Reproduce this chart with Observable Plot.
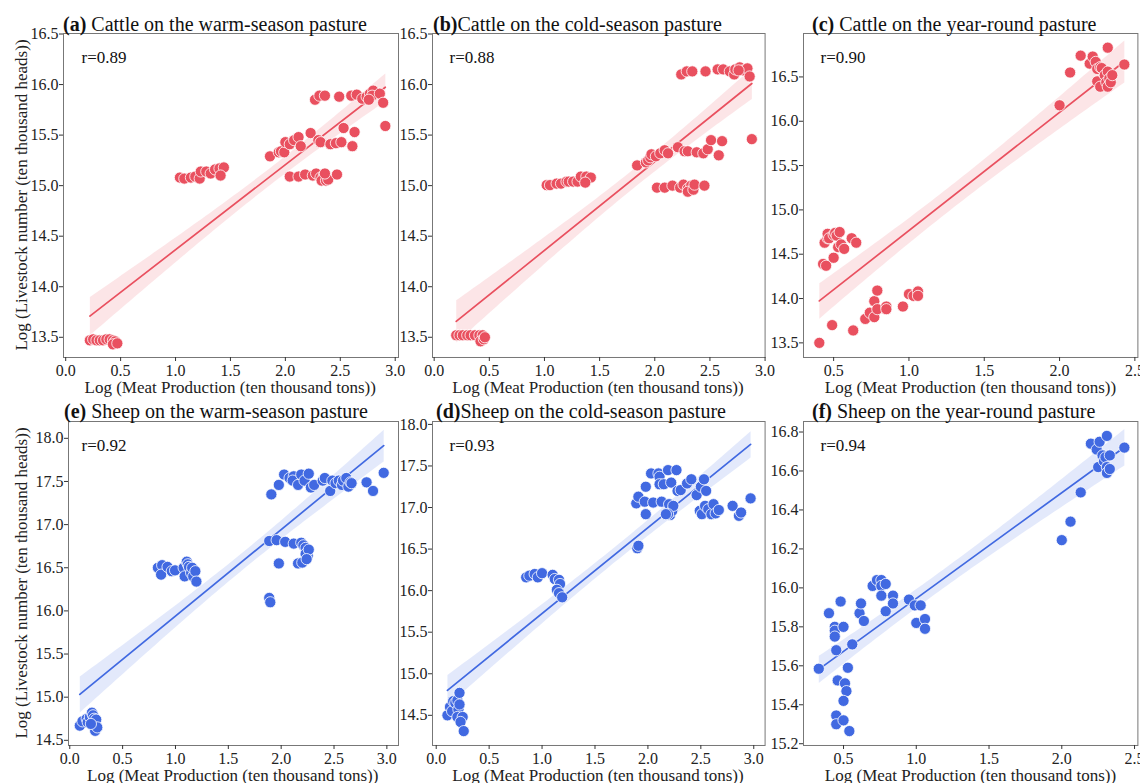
<!DOCTYPE html>
<html>
<head>
<meta charset="utf-8">
<script src="https://cdn.jsdelivr.net/npm/d3@7"></script>
<script src="https://cdn.jsdelivr.net/npm/@observablehq/plot@0.6"></script>
<style>
  body { margin: 0; background: #fff; }
  #fig { position: relative; width: 1140px; height: 783px; overflow: hidden;
         font-family: "Liberation Serif", "Times New Roman", serif; color: #222; background: #fff; }
  .title { position: absolute; font-size: 20px; line-height: 20px; white-space: nowrap; color: #111; }
  .xlab { position: absolute; font-size: 17px; line-height: 17px; white-space: nowrap; transform: translateX(-50%); color: #222; }
  .ylab { position: absolute; font-size: 17px; line-height: 17px; white-space: nowrap;
          transform: translate(-50%, -50%) rotate(-90deg); color: #222; }
  svg text { font-family: "Liberation Serif", "Times New Roman", serif; }
</style>
</head>
<body>
<div id="fig"></div>
<script>
// ---------- Data ----------
// (a) Cattle on the warm-season pasture
const aX = [0.22,0.25,0.28,0.31,0.34,0.37,0.40,0.43,0.45,0.43,0.47,
  1.04,1.08,1.14,1.18,1.22,1.23,1.28,1.32,1.36,1.40,1.44,1.41,
  1.86,1.94,1.96,1.99,2.00,2.04,2.08,2.12,2.14,2.23,2.30,2.32,2.41,2.46,2.51,2.53,2.61,2.63,2.91,
  2.04,2.12,2.18,2.25,2.28,2.32,2.35,2.33,2.37,2.39,2.36,2.47,
  2.27,2.31,2.36,2.49,2.60,2.65,2.70,2.74,2.77,2.80,2.79,2.86,2.89,2.76];
const aY = [13.47,13.48,13.47,13.47,13.47,13.48,13.48,13.47,13.46,13.43,13.44,
  15.08,15.07,15.08,15.09,15.07,15.14,15.14,15.12,15.16,15.17,15.18,15.10,
  15.29,15.33,15.34,15.33,15.43,15.41,15.45,15.48,15.39,15.52,15.45,15.43,15.41,15.42,15.43,15.57,15.39,15.53,15.59,
  15.09,15.09,15.11,15.10,15.12,15.08,15.10,15.05,15.05,15.06,15.12,15.11,
  15.85,15.89,15.89,15.88,15.89,15.90,15.86,15.88,15.91,15.94,15.89,15.91,15.82,15.85];

// (b) Cattle on the cold-season pasture
const bX = [0.20,0.23,0.26,0.30,0.33,0.37,0.41,0.44,0.42,0.45,0.46,
  1.02,1.05,1.11,1.15,1.20,1.22,1.26,1.30,1.33,1.38,1.42,1.37,
  1.84,1.92,1.94,1.96,1.97,2.01,2.05,2.09,2.12,2.21,2.27,2.30,2.38,2.44,2.48,2.51,2.58,2.61,2.88,
  2.02,2.09,2.16,2.23,2.26,2.30,2.33,2.30,2.35,2.36,2.45,
  2.24,2.29,2.34,2.46,2.57,2.62,2.68,2.72,2.73,2.77,2.80,2.84,2.86,2.76];
const bY = [13.52,13.52,13.52,13.52,13.52,13.52,13.52,13.52,13.46,13.48,13.50,
  15.005,15.005,15.02,15.02,15.04,15.04,15.04,15.04,15.09,15.09,15.08,15.03,
  15.20,15.23,15.25,15.28,15.31,15.29,15.32,15.35,15.32,15.38,15.34,15.34,15.33,15.32,15.36,15.45,15.30,15.44,15.46,
  14.98,14.98,15.00,14.98,15.01,14.97,15.00,14.94,14.96,15.01,15.00,
  16.10,16.13,16.13,16.13,16.15,16.15,16.13,16.10,16.15,16.17,16.14,16.16,16.08,16.14];

// (c) Cattle on the year-round pasture
const cX = [0.405,0.49,0.63,0.71,0.74,0.77,0.77,0.79,0.79,0.85,0.85,0.96,1.00,1.03,1.06,1.06,
  0.43,0.45,0.50,0.44,0.46,0.46,0.47,0.50,0.51,0.52,0.54,0.53,0.55,0.57,0.62,0.65,
  2.00,2.07,2.14,2.20,2.22,2.24,2.25,2.27,2.25,2.28,2.27,2.30,2.31,2.32,2.32,2.32,2.33,2.34,2.35,2.43];
const cY = [13.50,13.70,13.64,13.77,13.84,13.97,13.79,13.88,14.09,13.91,13.88,13.91,14.05,14.03,14.08,14.03,
  14.39,14.37,14.46,14.63,14.68,14.73,14.68,14.72,14.74,14.71,14.75,14.58,14.61,14.56,14.68,14.63,
  16.18,16.55,16.74,16.65,16.73,16.67,16.59,16.61,16.45,16.60,16.39,16.52,16.44,16.56,16.83,16.39,16.48,16.44,16.52,16.64];

// (e) Sheep on the warm-season pasture
const eX = [0.095,0.12,0.16,0.17,0.19,0.21,0.22,0.23,0.25,0.24,0.26,0.20,
  0.834,0.874,0.864,0.925,0.965,0.996,1.077,1.107,1.117,1.087,1.128,1.148,1.158,1.168,1.188,1.198,
  1.887,1.897,1.887,1.957,1.978,2.038,2.119,2.19,2.21,2.231,2.251,2.231,2.16,2.2,2.261,2.241,
  1.907,1.978,2.028,2.079,2.119,2.109,2.16,2.19,2.221,2.261,2.281,2.312,2.393,2.413,2.464,2.484,2.514,2.545,2.575,2.585,2.616,2.636,2.656,2.666,2.808,2.869,2.97];
const eY = [14.67,14.72,14.75,14.71,14.77,14.82,14.79,14.75,14.74,14.61,14.65,14.69,
  16.50,16.53,16.42,16.51,16.46,16.47,16.50,16.57,16.54,16.40,16.51,16.44,16.50,16.40,16.46,16.34,
  16.15,16.10,16.81,16.82,16.55,16.80,16.78,16.79,16.76,16.73,16.64,16.66,16.55,16.56,16.71,16.60,
  17.35,17.46,17.58,17.54,17.56,17.51,17.46,17.58,17.51,17.59,17.43,17.46,17.51,17.54,17.39,17.51,17.48,17.51,17.46,17.51,17.54,17.44,17.49,17.48,17.49,17.39,17.60];

// (d) Sheep on the cold-season pasture
const dX = [0.106,0.13,0.15,0.16,0.18,0.20,0.22,0.21,0.22,0.20,0.25,0.23,0.26,
  0.85,0.88,0.93,0.96,1.00,1.10,1.12,1.16,1.17,1.14,1.16,1.19,
  1.90,1.91,1.89,1.91,1.97,1.98,1.98,2.03,2.05,2.10,2.11,2.11,2.13,2.15,2.19,2.20,2.21,2.22,2.23,2.24,
  2.27,2.28,2.31,2.37,2.41,2.46,2.50,2.53,2.55,2.49,2.51,2.54,2.57,2.60,2.62,2.64,2.67,2.80,2.86,2.88,2.97,2.19,2.17];
const dY = [14.50,14.60,14.55,14.67,14.65,14.68,14.77,14.57,14.63,14.48,14.48,14.42,14.31,
  16.16,16.18,16.20,16.16,16.21,16.19,16.14,16.13,16.08,16.01,15.97,15.92,
  16.51,16.54,17.05,17.13,17.07,17.25,16.92,17.41,17.06,17.41,17.37,17.28,17.07,17.28,17.45,17.04,16.91,17.30,16.96,17.02,
  17.45,17.20,17.21,17.29,17.34,17.15,17.25,17.34,17.20,16.96,16.92,17.02,16.98,16.92,17.04,16.93,16.97,17.02,16.90,16.94,17.11,16.92,16.92];

// (f) Sheep on the year-round pasture
const fX = [0.33,0.40,0.48,0.44,0.44,0.44,0.50,0.45,0.46,0.51,0.52,0.50,0.53,0.45,0.45,0.50,0.54,0.56,0.61,0.62,
  0.64,0.70,0.73,0.76,0.76,0.79,0.76,0.79,0.84,0.84,0.95,0.99,1.03,1.00,1.06,1.06,
  2.00,2.06,2.13,2.20,2.24,2.26,2.25,2.28,2.29,2.30,2.31,2.31,2.31,2.33,2.33,2.43];
const fY = [15.585,15.87,15.93,15.80,15.78,15.75,15.80,15.68,15.525,15.51,15.47,15.42,15.59,15.345,15.30,15.32,15.265,15.71,15.87,15.92,
  15.83,16.01,16.04,16.04,16.01,16.02,15.96,15.88,15.96,15.92,15.94,15.91,15.91,15.82,15.84,15.79,
  16.245,16.34,16.49,16.74,16.71,16.75,16.62,16.68,16.65,16.67,16.62,16.78,16.59,16.68,16.61,16.72];

// Tick values
const ticksX03 = [0.0,0.5,1.0,1.5,2.0,2.5,3.0];
const ticksX0525 = [0.5,1.0,1.5,2.0,2.5];
const ticksYCattle = [13.5,14.0,14.5,15.0,15.5,16.0,16.5];
const ticksYSheepSeason = [14.5,15.0,15.5,16.0,16.5,17.0,17.5,18.0];
const ticksYSheepYear = [15.2,15.4,15.6,15.8,16.0,16.2,16.4,16.6,16.8];

// Labels
const tags = ["(a)", "(b)", "(c)", "(e)", "(d)", "(f)"];
const titles = [" Cattle on the warm-season pasture", "Cattle on the cold-season pasture", " Cattle on the year-round pasture",
                " Sheep on the warm-season pasture", "Sheep on the cold-season pasture", " Sheep on the year-round pasture"];
const rLabels = ["r=0.89", "r=0.88", "r=0.90", "r=0.92", "r=0.93", "r=0.94"];
const xLabel = "Log (Meat Production (ten thousand tons))";
const yLabel = "Log (Livestock number (ten thousand heads))";

const RED = "#E9505F";
const BLUE = "#4169E1";
const FONT = "'Liberation Serif', 'Times New Roman', serif";

// ---------- Layout ----------
const panels = [
  {xs: aX, ys: aY, color: RED, frame: [62.7, 397.7, 33.3, 357.3], xDomain: [-0.02, 3.03], yDomain: [13.30, 16.505], xTicks: ticksX03, yTicks: ticksYCattle, titleX: 63, rdx: 18},
  {xs: bX, ys: bY, color: RED, frame: [431.7, 764.3, 33.3, 357.3], xDomain: [-0.015, 3.0], yDomain: [13.30, 16.505], xTicks: ticksX03, yTicks: ticksYCattle, titleX: 433, rdx: 17},
  {xs: cX, ys: cY, color: RED, frame: [803.3, 1137.7, 33.3, 357.3], xDomain: [0.30, 2.52], yDomain: [13.335, 16.99], xTicks: ticksX0525, yTicks: ticksYCattle, titleX: 812, rdx: 17},
  {xs: eX, ys: eY, color: BLUE, frame: [67.7, 397.7, 420.5, 744.5], xDomain: [-0.012, 3.11], yDomain: [14.44, 18.195], xTicks: ticksX03, yTicks: ticksYSheepSeason, titleX: 64, rdx: 13},
  {xs: dX, ys: dY, color: BLUE, frame: [431.7, 764.3, 420.5, 744.5], xDomain: [-0.035, 3.107], yDomain: [14.137, 18.035], xTicks: ticksX03, yTicks: ticksYSheepSeason, titleX: 436, rdx: 17},
  {xs: fX, ys: fY, color: BLUE, frame: [803.3, 1137.7, 420.5, 744.5], xDomain: [0.225, 2.523], yDomain: [15.191, 16.854], xTicks: ticksX0525, yTicks: ticksYSheepYear, titleX: 812, rdx: 17}
];

const fig = document.getElementById("fig");
const fmt = d3.format(".1f");

panels.forEach((p, i) => {
  const ml = 50, mr = 12, mt = 10, mb = 30;
  const fw = p.frame[1] - p.frame[0];
  const fh = p.frame[3] - p.frame[2];
  const data = p.xs.map((x, j) => ({x, y: p.ys[j]}));
  const chart = Plot.plot({
    width: fw + ml + mr,
    height: fh + mt + mb,
    marginLeft: ml, marginRight: mr, marginTop: mt, marginBottom: mb,
    x: {domain: p.xDomain},
    y: {domain: p.yDomain},
    style: {fontFamily: FONT, fontSize: "16px", color: "#333", background: "transparent", overflow: "visible"},
    marks: [
      Plot.linearRegressionY(data, {x: "x", y: "y", stroke: p.color, fill: p.color, fillOpacity: 0.15, strokeWidth: 1.7}),
      Plot.dot(data, {x: "x", y: "y", r: 5.6, fill: p.color, stroke: "white", strokeWidth: 0.8}),
      Plot.frame({stroke: "#777", strokeWidth: 1}),
      Plot.axisX({ticks: p.xTicks, tickFormat: fmt, tickSize: 4, tickPadding: 3, label: null, fontSize: 16, fontFamily: FONT, fill: "#222"}),
      Plot.axisY({ticks: p.yTicks, tickFormat: fmt, tickSize: 4, tickPadding: 1, label: null, fontSize: 16, fontFamily: FONT, fill: "#222"}),
      Plot.text([rLabels[i]], {text: d => d, frameAnchor: "top-left", dx: p.rdx, dy: 24, lineAnchor: "middle", textAnchor: "start", fontSize: 17, fontFamily: FONT, fill: "#111"})
    ]
  });
  chart.style.position = "absolute";
  chart.style.left = (p.frame[0] - ml) + "px";
  chart.style.top = (p.frame[2] - mt) + "px";
  chart.style.maxWidth = "none";
  fig.appendChild(chart);

  const t = document.createElement("div");
  t.className = "title";
  t.style.left = p.titleX + "px";
  t.style.top = (p.frame[2] - 19.5) + "px";
  const b = document.createElement("b");
  b.textContent = tags[i];
  t.appendChild(b);
  t.appendChild(document.createTextNode(titles[i]));
  fig.appendChild(t);

  const xl = document.createElement("div");
  xl.className = "xlab";
  xl.textContent = xLabel;
  xl.style.left = ((p.frame[0] + p.frame[1]) / 2) + "px";
  xl.style.top = (p.frame[3] + 22) + "px";
  fig.appendChild(xl);

  if (i === 0 || i === 3) {
    const yl = document.createElement("div");
    yl.className = "ylab";
    yl.textContent = yLabel;
    yl.style.left = "21px";
    yl.style.top = ((p.frame[2] + p.frame[3]) / 2) + "px";
    fig.appendChild(yl);
  }
});
</script>
</body>
</html>
